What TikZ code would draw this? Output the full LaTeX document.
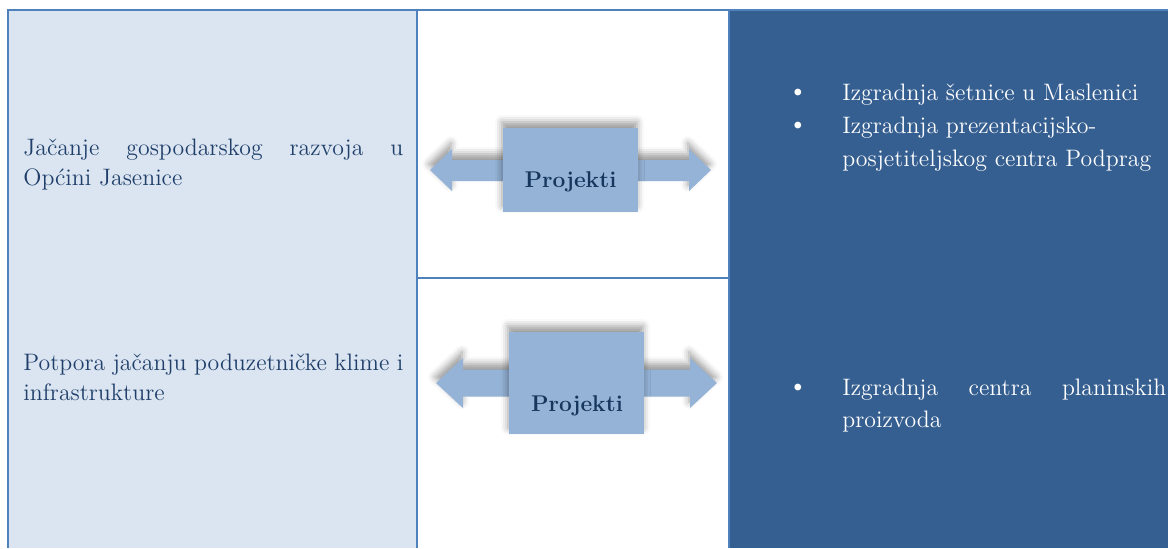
\documentclass[tikz,border=0pt]{standalone}
\usepackage{fontspec}
\usepackage{tikz}
\usetikzlibrary{shadows,shadows.blur}
\definecolor{cellblue}{HTML}{DBE5F1}
\definecolor{rulecol}{HTML}{4F81BD}
\definecolor{darkcell}{HTML}{365F91}
\definecolor{boxblue}{HTML}{95B3D7}
\definecolor{textblue}{HTML}{1F3F6A}
\definecolor{labelblue}{HTML}{17365D}
\tikzstyle{rule} = [draw=rulecol, line width=1pt]
\tikzstyle{shade} = [blur shadow={shadow xshift=-0.5pt, shadow yshift=3pt, shadow blur radius=3.5pt, shadow opacity=40}]
\tikzstyle{arrowbody} = [fill=boxblue, shade]
\tikzstyle{projbox} = [fill=boxblue, inner sep=0pt, shade]
\tikzstyle{boxlabel} = [anchor=base, inner sep=0pt, text=labelblue, font=\fontsize{11.4}{15}\selectfont\bfseries]
\tikzstyle{celltext} = [anchor=base west, inner sep=0pt, text=textblue, font=\fontsize{11.9}{15}\selectfont]
\tikzstyle{listtext} = [anchor=base west, inner sep=0pt, text=white, font=\fontsize{11.9}{15}\selectfont]
\tikzstyle{listmark} = [anchor=base, inner sep=0pt, text=white, font=\fontsize{15}{15}\selectfont]

\begin{document}
\begin{tikzpicture}[x=0.5pt,y=-0.5pt]
\useasboundingbox (0,0) rectangle (1168,548);
% table cells
\fill[cellblue] (7.5,10) rectangle (417,548);
\fill[darkcell] (729,10) rectangle (1168,548);
\draw[rule] (7.5,548) -- (7.5,10) -- (1168,10);
\draw[rule] (417,10) -- (417,548);
\draw[rule] (729,10) -- (729,548);
\draw[rule, line width=0.8pt] (417,278) -- (729,278);

% left column
\node[celltext] (goalA) at (23,155) {\makebox[190pt][s]{Jačanje gospodarskog razvoja u}};
\node[celltext] (goalAb) at (23,185) {Općini Jasenice};
\node[celltext] (goalB) at (23,370) {\makebox[190pt][s]{Potpora jačanju poduzetničke klime i}};
\node[celltext] (goalBb) at (23,400) {infrastrukture};

% arrows with boxes
\path[arrowbody] (430,170) -- (452,149) -- (452,160) -- (689,160) -- (689,149) -- (711,170)
  -- (689,191) -- (689,181) -- (452,181) -- (452,191) -- cycle;
\node[projbox, minimum width=67.5pt, minimum height=42pt] (boxA) at (570.5,170) {};
\node[boxlabel] (projA) at (570.5,187) {Projekti};

\path[arrowbody] (436,383) -- (463,358) -- (463,369.5) -- (690,369.5) -- (690,358) -- (717,383)
  -- (690,408) -- (690,396.5) -- (463,396.5) -- (463,408) -- cycle;
\node[projbox, minimum width=67.5pt, minimum height=51pt] (boxB) at (576.5,383) {};
\node[boxlabel] (projB) at (577,411) {Projekti};

% right column
\node[listmark] (dotA) at (798,100.7) {\textbullet};
\node[listtext] (itemA) at (842,100.7) {Izgradnja šetnice u Maslenici};
\node[listmark] (dotB) at (798,133.5) {\textbullet};
\node[listtext] (itemB) at (842,133.5) {Izgradnja prezentacijsko-};
\node[listtext] (itemBb) at (842,166.5) {posjetiteljskog centra Podprag};
\node[listmark] (dotC) at (798,395) {\textbullet};
\node[listtext] (itemC) at (842,395) {\makebox[162pt][s]{Izgradnja centra planinskih}};
\node[listtext] (itemCb) at (842,427) {proizvoda};
\end{tikzpicture}
\end{document}
